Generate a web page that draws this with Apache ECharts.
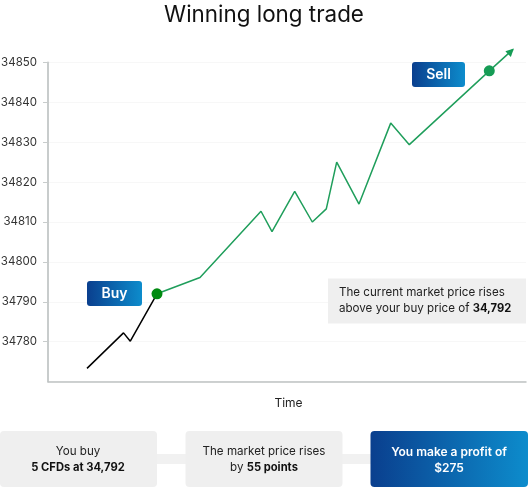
<!DOCTYPE html>
<html>
<head>
<meta charset="utf-8">
<style>
  html, body { margin: 0; padding: 0; background: #fff; }
  #chart { width: 528px; height: 487px; }
</style>
<script src="https://cdn.jsdelivr.net/npm/echarts@6/dist/echarts.min.js"></script>
</head>
<body>
<div id="chart"></div>
<script>
var titleText = 'Winning long trade';
var xName = 'Time';

var entryTime = [39, 75.5, 82.3, 109];
var entryPrice = [34773.3, 34782.2, 34780.1, 34792];

var tradeTime = [109, 152, 213, 224, 246.7, 264.3, 278.3, 288.7, 311, 342.7, 361.3, 441.3, 465];
var tradePrice = [34792, 34796.1, 34812.7, 34807.6, 34817.7, 34810, 34813.3, 34825, 34814.5, 34834.8, 34829.4, 34847.9, 34853.3];

var buyPoint = [109, 34792];
var sellPoint = [441.3, 34847.9];
var arrowPoint = [465, 34853.3];

function zip(xs, ys) {
  return xs.map(function (x, i) { return [x, ys[i]]; });
}

var font = 'Inter';
var btnFill = {
  type: 'linear', x: 0, y: 0, x2: 1, y2: 0,
  colorStops: [{ offset: 0, color: '#0a3f8e' }, { offset: 1, color: '#0d8ccc' }]
};

function box(x, y, w, h, fill, r) {
  return { type: 'rect', silent: true, z: 8, shape: { x: x, y: y, width: w, height: h, r: r }, style: { fill: fill } };
}

function text(x, y, str, opts) {
  return {
    type: 'text', silent: true, x: x, y: y, z: 10,
    style: {
      text: str,
      x: 0, y: 0,
      font: (opts.weight || 400) + ' ' + (opts.size || 11.6) + 'px ' + font,
      fill: opts.color || '#222',
      align: opts.align || 'center',
      verticalAlign: 'middle',
      lineHeight: opts.lh,
      rich: opts.rich
    }
  };
}

var boldRich = { b: { fontFamily: font, fontWeight: 700, fontSize: 11.2, fill: '#111', color: '#111', lineHeight: 16 } };

var chart = echarts.init(document.getElementById('chart'));
chart.setOption({
  animation: false,
  title: {
    text: titleText,
    left: 'center',
    top: -1,
    textStyle: { fontFamily: font, fontWeight: 400, fontSize: 22.4, color: '#111' }
  },
  grid: { left: 48, right: 2, top: 62.5, bottom: 105.5, outerBoundsMode: 'none' },
  xAxis: {
    type: 'value',
    min: 0,
    max: 478,
    name: xName,
    nameLocation: 'middle',
    nameGap: 16,
    nameTextStyle: { fontFamily: font, fontSize: 12, color: '#222', padding: [0, 0, 0, 3] },
    axisLine: { show: true, onZero: false, lineStyle: { color: '#bfc2c2', width: 1.5 } },
    axisTick: { show: false },
    axisLabel: { show: false },
    splitLine: { show: false }
  },
  yAxis: {
    type: 'value',
    min: 34770,
    max: 34850,
    interval: 10,
    axisLine: { show: true, lineStyle: { color: '#c8cccc', width: 2 } },
    axisTick: { show: true, length: 5, lineStyle: { color: '#c8cccc', width: 1 } },
    axisLabel: {
      showMinLabel: false,
      formatter: function (v) { return String(v); },
      fontFamily: font,
      fontSize: 11.5,
      color: '#333',
      margin: 11,
      padding: [3, 0, 0, 0]
    },
    splitLine: { show: true, lineStyle: { color: '#f7f7f7', width: 1 } }
  },
  series: [
    {
      name: 'Before buy',
      type: 'line',
      clip: false,
      symbol: 'none',
      data: zip(entryTime, entryPrice),
      lineStyle: { color: '#000', width: 1.5 }
    },
    {
      name: 'After buy',
      type: 'line',
      clip: false,
      symbol: 'none',
      data: zip(tradeTime, tradePrice),
      lineStyle: { color: '#1f9e5b', width: 1.5 }
    },
    {
      name: 'Buy',
      type: 'scatter',
      clip: false,
      symbolSize: 11,
      data: [buyPoint],
      itemStyle: { color: '#008a10', opacity: 1 },
      z: 5
    },
    {
      name: 'Sell',
      type: 'scatter',
      clip: false,
      symbolSize: 11,
      data: [sellPoint],
      itemStyle: { color: '#169c55', opacity: 1 },
      z: 5
    },
    {
      name: 'Arrow',
      type: 'scatter',
      clip: false,
      symbol: 'triangle',
      symbolSize: 8,
      symbolRotate: -47,
      symbolOffset: [-2, 2],
      data: [arrowPoint],
      itemStyle: { color: '#169c55', opacity: 1 },
      z: 5
    }
  ],
  graphic: [
    // buy / sell tags
    box(87, 281, 55, 25, btnFill, 3),
    text(114.5, 293.5, 'Buy', { size: 14, weight: 600, color: '#fff' }),
    box(412, 62, 53, 25, btnFill, 3),
    text(438.5, 74.5, 'Sell', { size: 14, weight: 600, color: '#fff' }),

    // callout
    box(328, 278.5, 198, 45, '#efefef', 0),
    text(339, 301, 'The current market price rises\nabove your buy price of {b|34,792}', { align: 'left', lh: 16, rich: boldRich }),

    // bottom flow
    box(157, 454, 214, 10, '#f1f1f1', 0),
    box(0, 431, 157, 56, '#efefef', 4),
    box(185.5, 431, 157, 56, '#efefef', 4),
    box(370.5, 431, 157.5, 56, btnFill, 4),
    text(78, 460, 'You buy\n{b|5 CFDs at 34,792}', { lh: 16, rich: boldRich }),
    text(264, 460, 'The market price rises\nby {b|55 points}', { lh: 16, rich: boldRich }),
    text(449, 460, 'You make a profit of\n$275', { size: 12, weight: 600, color: '#fff', lh: 16 })
  ]
});
</script>
</body>
</html>
